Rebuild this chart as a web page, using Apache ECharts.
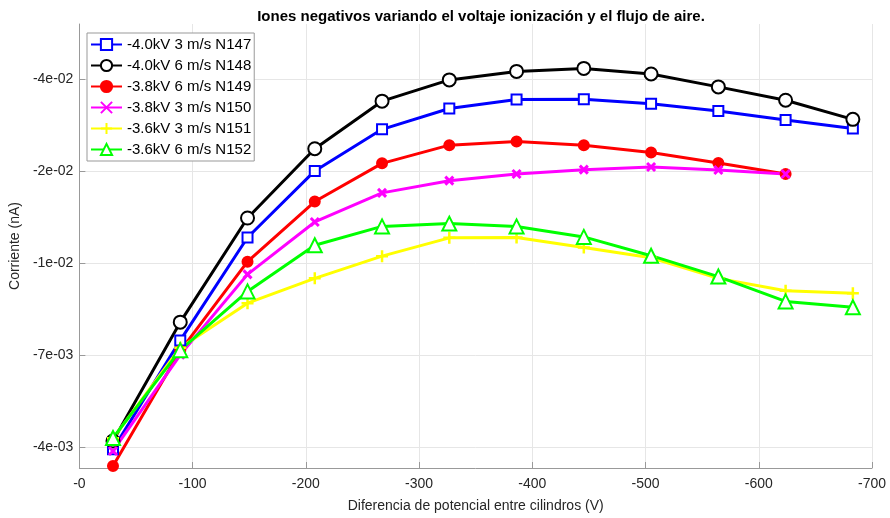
<!DOCTYPE html>
<html>
<head>
<meta charset="utf-8">
<script src="https://cdn.jsdelivr.net/npm/echarts@6/dist/echarts.min.js"></script>
<style>html,body{margin:0;padding:0;background:#fff}#c{width:890px;height:518px}</style>
</head>
<body>
<div id="c"></div>
<script>
// Voltage difference (V)
const voltages = [-29.7, -89.1, -148.5, -207.9, -267.3, -326.7, -386.1, -445.5, -504.9, -564.3, -623.7, -683.1];
// Currents (nA) per run
const n147 = [-0.00392, -0.00776, -0.01479, -0.02246, -0.02915, -0.03323, -0.03515, -0.0352, -0.03422, -0.03268, -0.03089, -0.02929];
const n148 = [-0.00413, -0.0087, -0.01672, -0.02582, -0.03478, -0.03974, -0.04192, -0.04271, -0.04125, -0.03804, -0.03499, -0.03103];
const n149 = [-0.00353, -0.00727, -0.01271, -0.01854, -0.02355, -0.0264, -0.02701, -0.0264, -0.02522, -0.0236, -0.02203];
const n150 = [-0.00388, -0.00709, -0.01174, -0.01631, -0.01957, -0.02113, -0.02203, -0.02264, -0.02302, -0.02259, -0.02203];
const n151 = [-0.0042, -0.00741, -0.0098, -0.01145, -0.01316, -0.01476, -0.0148, -0.01389, -0.01303, -0.01145, -0.01059, -0.01043];
const n152 = [-0.00421, -0.0073, -0.01055, -0.01409, -0.01586, -0.01614, -0.01586, -0.01485, -0.0132, -0.01158, -0.00991, -0.00955];
const seriesNames = ['-4.0kV 3 m/s N147', '-4.0kV 6 m/s N148', '-3.8kV 6 m/s N149', '-3.8kV 3 m/s N150', '-3.6kV 3 m/s N151', '-3.6kV 6 m/s N152'];
// y ticks as log10 of |current| (log-scale axis)
const yTicksLog = [-2.4, -2.15, -1.9, -1.65, -1.4];
const xTicks = [-700, -600, -500, -400, -300, -200, -100, 0];

const values = [n147, n148, n149, n150, n151, n152];
const colors = ['#0000ff', '#000000', '#ff0000', '#ff00ff', '#ffff00', '#00ff00'];
const symbols = ['emptyRect', 'emptyCircle', 'circle', 'path://M0,0L10,10M10,0L0,10', 'path://M5,0L5,10M0,5L10,5', 'emptyTriangle'];
const sizes = [10, 13, 10, 8, 12, 14];
const borders = [2, 2.5, 2, 3, 2.5, 2.5];

function fmtY(v) {
  const x = Math.pow(10, v);
  let e = Math.floor(Math.log10(x));
  let m = Math.round(x / Math.pow(10, e));
  if (m >= 10) { m = 1; e += 1; }
  const ae = Math.abs(e);
  return '-' + m + 'e' + (e < 0 ? '-' : '+') + (ae < 10 ? '0' : '') + ae;
}

const font = 'Liberation Sans, Arial, Helvetica, sans-serif';
const chart = echarts.init(document.getElementById('c'), null, {renderer: 'canvas'});
chart.setOption({
  animation: false,
  backgroundColor: '#fff',
  title: {
    text: 'Iones negativos variando el voltaje ionización y el flujo de aire.',
    left: 476, top: 4, textAlign: 'center',
    textStyle: {fontFamily: font, fontSize: 15, fontWeight: 'bold', color: '#000'}
  },
  legend: {
    orient: 'vertical', left: 87, top: 33,
    itemWidth: 31, itemHeight: 14, itemGap: 6,
    padding: [4, 3, 4, 3],
    borderColor: '#999', borderWidth: 1, backgroundColor: '#fff',
    textStyle: {fontFamily: font, fontSize: 15, color: '#000'},
    data: seriesNames
  },
  grid: {left: 79, right: 18, top: 24, bottom: 47, containLabel: false},
  xAxis: {
    type: 'value', min: xTicks[0], max: xTicks[xTicks.length - 1], interval: 100, inverse: true,
    name: 'Diferencia de potencial entre cilindros (V)', nameLocation: 'middle', nameGap: 31,
    nameTextStyle: {fontFamily: font, fontSize: 14, color: '#262626'},
    axisLine: {show: true, onZero: false, lineStyle: {color: '#999', width: 1}},
    axisTick: {show: true, inside: true, length: 6, lineStyle: {color: '#999'}},
    axisLabel: {fontFamily: font, fontSize: 14, color: '#262626', margin: 9,
      formatter: v => v === 0 ? '-0' : String(v)},
    splitLine: {show: true, lineStyle: {color: '#e6e6e6', width: 1}}
  },
  yAxis: {
    type: 'value', min: -2.4576, max: -1.2485,
    name: 'Corriente (nA)', nameLocation: 'middle', nameGap: 47,
    nameTextStyle: {fontFamily: font, fontSize: 14, color: '#262626'},
    axisLine: {show: true, onZero: false, lineStyle: {color: '#999', width: 1}},
    axisTick: {show: true, inside: true, length: 6, lineStyle: {color: '#999'}, customValues: yTicksLog},
    axisLabel: {fontFamily: font, fontSize: 14, color: '#262626', margin: 6, customValues: yTicksLog,
      formatter: fmtY},
    splitLine: {show: true, lineStyle: {color: '#e6e6e6', width: 1}}
  },
  series: values.map((vals, k) => ({
    name: seriesNames[k],
    type: 'line',
    data: vals.map((v, i) => [voltages[i], Math.log10(-v)]),
    symbol: symbols[k],
    symbolSize: sizes[k],
    showAllSymbol: true,
    lineStyle: {color: colors[k], width: 3},
    itemStyle: {color: colors[k], borderColor: colors[k], borderWidth: borders[k]},
    emphasis: {disabled: true}
  }))
});
</script>
</body>
</html>
